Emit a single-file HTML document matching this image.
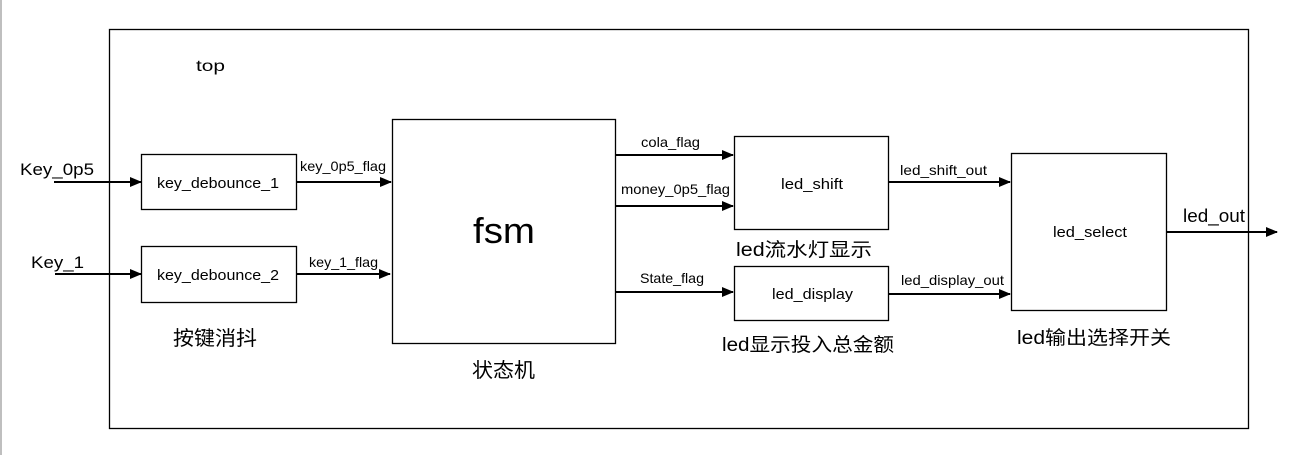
<!DOCTYPE html>
<html><head><meta charset="utf-8"><style>
html,body{margin:0;padding:0;background:#fff;}
svg{display:block;}
text{font-family:"Liberation Sans","Noto Sans CJK SC",sans-serif;fill:#000;}
</style></head><body>
<svg width="1293" height="455" viewBox="0 0 1293 455" xmlns="http://www.w3.org/2000/svg">
<defs><marker id="a" markerWidth="12" markerHeight="10" refX="11" refY="5" orient="auto" markerUnits="userSpaceOnUse"><path d="M0,0 L12,5 L0,10 z" fill="#000"/></marker></defs>
<line x1="1" y1="0" x2="1" y2="455" stroke="#aaa" stroke-width="1.5"/>
<g fill="none" stroke="#000" stroke-width="1.3">
<rect x="109.5" y="29.5" width="1139" height="399"/>
<rect x="141.5" y="154.5" width="155" height="55"/>
<rect x="141.5" y="246.5" width="155" height="56"/>
<rect x="392.5" y="119.5" width="223" height="224"/>
<rect x="734.5" y="136.5" width="154" height="93"/>
<rect x="734.5" y="266.5" width="154" height="54"/>
<rect x="1011.5" y="153.5" width="155" height="157"/>
</g>
<g stroke="#000" stroke-width="2" marker-end="url(#a)">
<line x1="54" y1="182" x2="141" y2="182"/>
<line x1="55" y1="274" x2="141" y2="274"/>
<line x1="297" y1="182" x2="391" y2="182"/>
<line x1="297" y1="274" x2="390" y2="274"/>
<line x1="616" y1="155" x2="733" y2="155"/>
<line x1="616" y1="206" x2="733" y2="206"/>
<line x1="616" y1="292" x2="733" y2="292"/>
<line x1="889" y1="182" x2="1010" y2="182"/>
<line x1="889" y1="294" x2="1010" y2="294"/>
<line x1="1167" y1="232" x2="1277" y2="232"/>
</g>
<g lengthAdjust="spacingAndGlyphs">
<text x="196" y="71" font-size="16" textLength="29" lengthAdjust="spacingAndGlyphs">top</text>
<text x="20" y="175" font-size="17" textLength="74" lengthAdjust="spacingAndGlyphs">Key_0p5</text>
<text x="31" y="268" font-size="17" textLength="53" lengthAdjust="spacingAndGlyphs">Key_1</text>
<text x="157" y="188" font-size="15" textLength="122" lengthAdjust="spacingAndGlyphs">key_debounce_1</text>
<text x="157" y="280" font-size="15" textLength="122" lengthAdjust="spacingAndGlyphs">key_debounce_2</text>
<text x="300" y="171" font-size="14" textLength="86" lengthAdjust="spacingAndGlyphs">key_0p5_flag</text>
<text x="309" y="267" font-size="14" textLength="69" lengthAdjust="spacingAndGlyphs">key_1_flag</text>
<text x="473" y="243" font-size="36" textLength="62" lengthAdjust="spacingAndGlyphs">fsm</text>
<text x="173" y="345" font-size="20" textLength="84" lengthAdjust="spacingAndGlyphs">按键消抖</text>
<text x="472" y="377" font-size="20" textLength="63" lengthAdjust="spacingAndGlyphs">状态机</text>
<text x="641" y="147" font-size="14" textLength="59" lengthAdjust="spacingAndGlyphs">cola_flag</text>
<text x="621" y="194" font-size="14" textLength="109" lengthAdjust="spacingAndGlyphs">money_0p5_flag</text>
<text x="640" y="283" font-size="14" textLength="64" lengthAdjust="spacingAndGlyphs">State_flag</text>
<text x="781" y="189" font-size="15" textLength="62" lengthAdjust="spacingAndGlyphs">led_shift</text>
<text x="772" y="299" font-size="15" textLength="81" lengthAdjust="spacingAndGlyphs">led_display</text>
<text x="736" y="256" font-size="19" textLength="136" lengthAdjust="spacingAndGlyphs">led流水灯显示</text>
<text x="722" y="351" font-size="19" textLength="172" lengthAdjust="spacingAndGlyphs">led显示投入总金额</text>
<text x="900" y="175" font-size="14" textLength="87" lengthAdjust="spacingAndGlyphs">led_shift_out</text>
<text x="901" y="285" font-size="14" textLength="103" lengthAdjust="spacingAndGlyphs">led_display_out</text>
<text x="1053" y="237" font-size="15" textLength="74" lengthAdjust="spacingAndGlyphs">led_select</text>
<text x="1183" y="222" font-size="18" textLength="62" lengthAdjust="spacingAndGlyphs">led_out</text>
<text x="1017" y="344" font-size="19" textLength="154" lengthAdjust="spacingAndGlyphs">led输出选择开关</text>
</g>
</svg>
</body></html>
